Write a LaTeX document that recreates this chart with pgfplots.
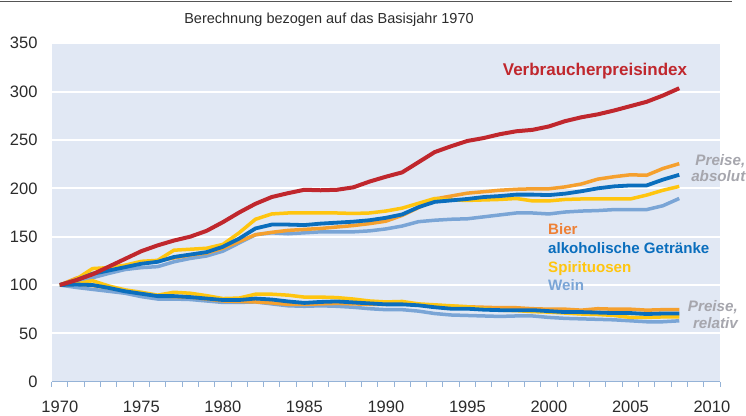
\documentclass[border=0pt]{standalone}
\usepackage{fontspec}
\setmainfont{Liberation Sans}
\usepackage{pgfplots}
\usepackage{pgfplotstable}
\pgfplotsset{compat=1.18}
\definecolor{cpi}{HTML}{C0272D}
\definecolor{bier}{HTML}{F5A02E}
\definecolor{biertext}{HTML}{EE8035}
\definecolor{alk}{HTML}{0A6EBD}
\definecolor{spir}{HTML}{FFC50F}
\definecolor{wein}{HTML}{7AA5D6}
\definecolor{bgblue}{HTML}{E1E8F4}
\definecolor{axisblue}{HTML}{95B3D7}
\definecolor{annogray}{HTML}{A6A6AD}
\definecolor{txtgray}{HTML}{2B2B2B}

\pgfplotstableread{
year cpi bier alk spir wein bierr alkr spirr weinr
1970 100 100 100 100 100 100 100 100 100
1971 105 107 105 106 103 101 100.5 101 97.5
1972 111 112 111.5 117 107.5 99.5 100 104.5 95.5
1973 119 116 115 118 112 97 97 99 93.5
1974 127 119 118.5 120.5 116 94 93.5 95 91.5
1975 135 123 122 124.5 118 91.5 91 92.5 88
1976 141 125 124 125.5 119 89 88.5 89.5 85.5
1977 146 128 129 136 124 88 88.5 92.5 85.5
1978 150 131 131.5 137 127.5 87.5 87.5 91.5 85
1979 156 133 134 138 130 85.5 86 89 83.5
1980 165 138 139.5 142 135 83.5 84.5 86 82
1981 175 145 148 154 143.5 83 84.5 86.5 82
1982 184 152 158.5 168 152 82.5 86 90.5 82.5
1983 191 154.5 162.5 173.5 154 81.5 85 90.5 80.5
1984 195 156.5 162.5 174.5 153 80 83 89.5 78.5
1985 198.5 157.5 162 174.5 154 80 81.5 87.5 78
1986 198 158.5 163.5 174.5 155 80.5 82.5 87.5 78.5
1987 198.5 160 164.5 174.5 155 81 83 87 78
1988 201 161.5 165.5 174 155 80.5 82 85.5 77
1989 207 163.5 167 174.5 156 80 81 83.5 75.5
1990 212 166 169.5 176.5 158 80 80 82.5 74.5
1991 216.5 172 173 179.5 161 81.5 80 83 74.5
1992 227 180 180.5 184.5 165.5 79.5 79 80.5 73
1993 237.5 189 186 189.5 167 79 77 79.5 70.5
1994 243.5 192 187.5 188 168 78 75.5 78.5 69
1995 249 195 189 187.5 168.5 77.5 75.5 77.5 68.5
1996 252 196.5 191 188 170.5 77 74.5 75.5 68
1997 256 198 192 188.5 172.5 76.5 74 74 67.5
1998 259 199 193.5 189.5 174.5 76.5 74 73.5 68
1999 260.5 199.5 193.5 187 174.5 75.5 74 72.5 68
2000 264 199.5 193 187 173.5 75 73 72 66.5
2001 269.5 201.5 194.5 188.5 175.5 75 72 71 65.5
2002 273.5 204.5 197 189 176.5 74 72 70 65
2003 276.5 209.5 200 189 177 75.5 71.5 69.5 64.5
2004 280.5 212 202 189 178 75 71 68.5 64
2005 285 214 203 189 178 75 71 66.5 63
2006 289.5 213.5 203 193 178 74 70 66.5 62
2007 296 220.5 209 198 182 74.5 70.5 67 62
2008 303.5 225.5 214 202 189.5 74.5 70.5 67 63
}\datatable

\begin{document}
\begin{tikzpicture}[x=1pt,y=1pt]
\useasboundingbox (0,0) rectangle (746,415);
\draw[txtgray!80, line width=1.5pt] (0,413.5) -- (732,413.5);
\begin{axis}[
  at={(51.7pt,33.3pt)}, anchor=south west,
  scale only axis, width=668.3pt, height=338.4pt,
  xmin=1969.5, xmax=2010.5, ymin=0, ymax=350,
  axis background/.style={fill=bgblue},
  separate axis lines,
  axis x line*=bottom, axis y line*=left,
  x axis line style={draw=axisblue, line width=1pt, -},
  y axis line style={draw=none},
  xtick={1970,1975,...,2010},
  minor xtick={1969.5,1970.5,...,2010.5},
  ytick={0,50,...,350},
  major tick length=0pt,
  minor tick length=5pt,
  tick align=outside,
  minor tick style={draw=axisblue, line width=1pt},
  ymajorgrids=true,
  major grid style={draw=white, line width=2pt},
  /pgf/number format/1000 sep={},
  /pgf/number format/assume math mode=true,
  tick label style={font=\fontsize{16.5}{19}\selectfont, text=txtgray},
  yticklabel style={anchor=east, inner sep=0pt, xshift=-14pt},
  xticklabel style={anchor=base, inner sep=0pt, yshift=-31pt},
  every axis plot/.append style={no markers, line join=round},
]
\addplot[wein, line width=3.5pt] table[x=year, y=wein]{\datatable};
\addplot[bier, line width=3.5pt] table[x=year, y=bier]{\datatable};
\addplot[spir, line width=3.5pt] table[x=year, y=spir]{\datatable};
\addplot[alk, line width=3.8pt] table[x=year, y=alk]{\datatable};
\addplot[wein, line width=3.5pt] table[x=year, y=weinr]{\datatable};
\addplot[bier, line width=3.5pt] table[x=year, y=bierr]{\datatable};
\addplot[spir, line width=3.5pt] table[x=year, y=spirr]{\datatable};
\addplot[alk, line width=3.8pt] table[x=year, y=alkr]{\datatable};
\addplot[cpi, line width=4pt] table[x=year, y=cpi]{\datatable};
\end{axis}
\node[text=txtgray, font=\fontsize{14.5}{17}\selectfont] at (329,395) {Berechnung bezogen auf das Basisjahr 1970};
\node[text=cpi, font=\fontsize{17}{20}\selectfont\bfseries, anchor=base] at (595,339.5) {Verbraucherpreisindex};
\begin{scope}[every node/.style={anchor=base west, inner sep=0pt, font=\fontsize{15.1}{18}\selectfont\bfseries}]
\node[text=biertext] at (548,180.3) {Bier};
\node[text=alk] at (548,161.6) {alkoholische Getränke};
\node[text=spir] at (548,142.9) {Spirituosen};
\node[text=wein] at (548,124.2) {Wein};
\end{scope}
\begin{scope}[every node/.style={anchor=base east, inner sep=0pt, text=annogray, font=\fontsize{15.2}{18}\selectfont\bfseries\itshape}]
\node at (745.5,249) {Preise,};
\node at (745.5,233) {absolut};
\node at (738,104) {Preise,};
\node at (738,86.5) {relativ};
\end{scope}
\end{tikzpicture}
\end{document}
